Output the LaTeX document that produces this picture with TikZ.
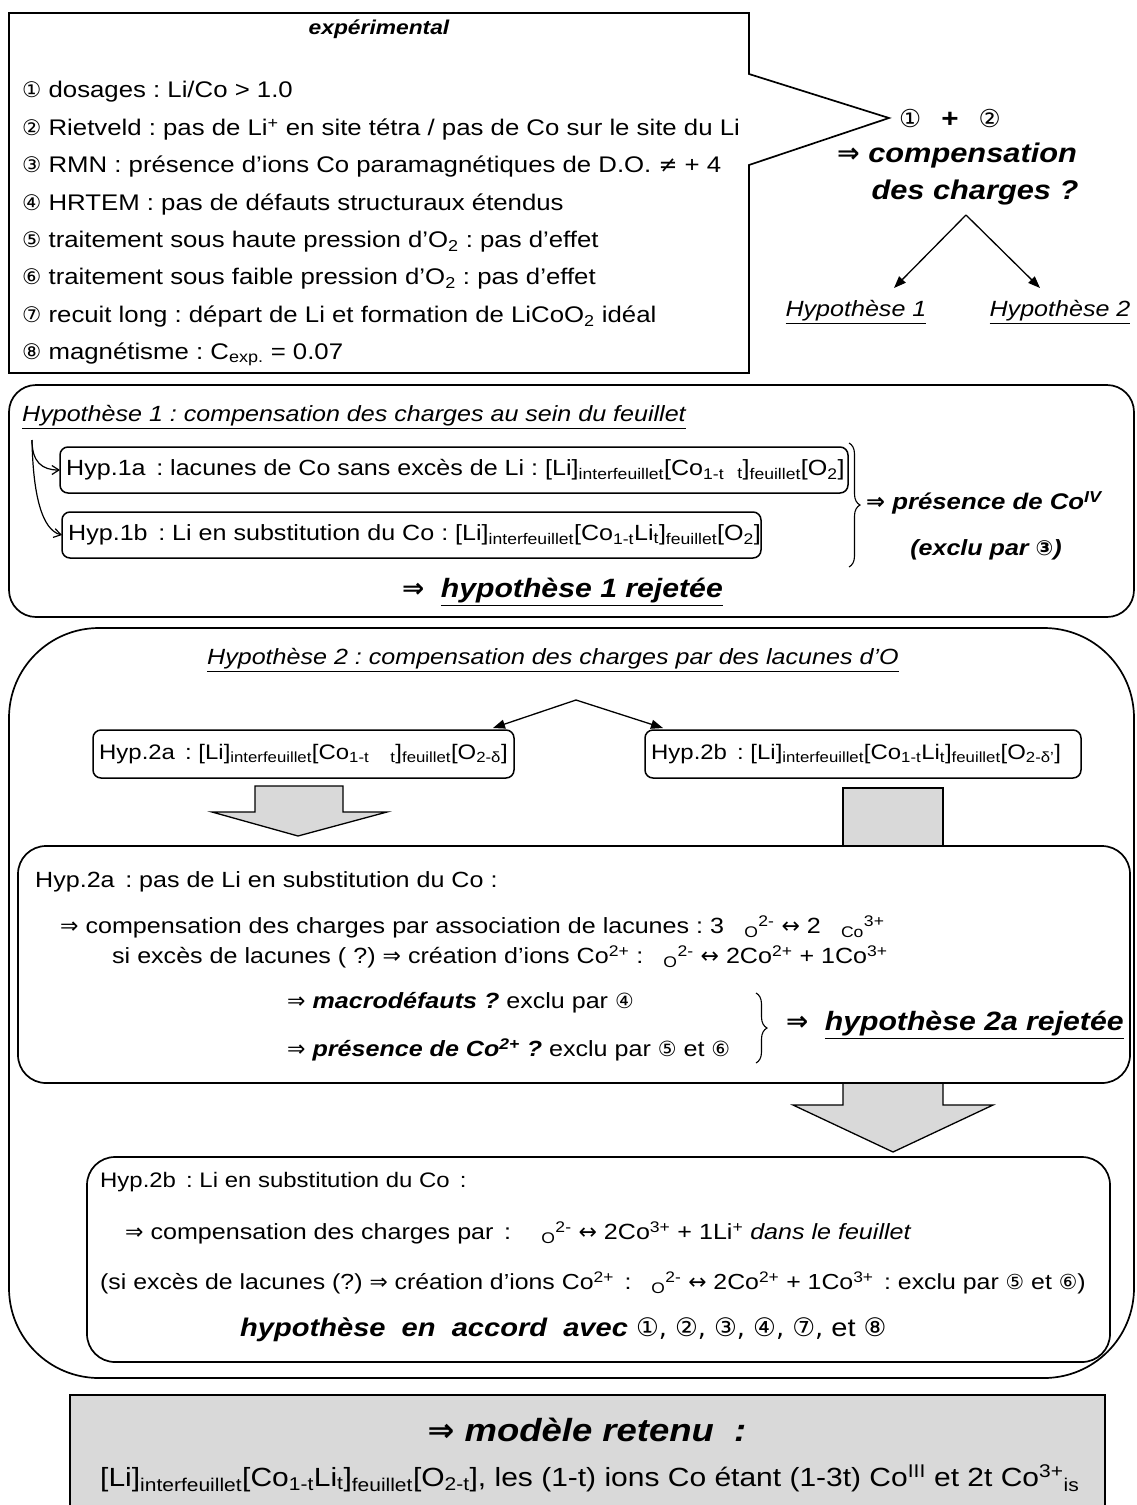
\documentclass[tikz,border=0pt]{standalone}
\usepackage{fontspec}
\setmainfont{Liberation Sans}[FakeStretch=1.14]
\newfontfamily\symf{DejaVu Sans}
\usetikzlibrary{arrows.meta,decorations.pathreplacing}
\frenchspacing
\newcommand\fs[1]{\fontsize{#1}{#1}\selectfont}
\newcommand\sbs[1]{\textsubscript{#1}}
\newcommand\sps[1]{\textsuperscript{#1}}
\newcommand\RA{{\symf ⇒}}
\newcommand\LRA{{\symf ↔}}
\newcommand\cn[1]{{\symf\fontsize{0.95em}{1em}\selectfont #1}}
\newcommand\vac{\hspace{0.6em}}
\definecolor{boxgray}{RGB}{217,217,217}
\begin{document}
\begin{tikzpicture}[x=1pt,y=-1pt,
  frame/.style={line width=1.7pt},
  smallbox/.style={line width=1.5pt, rounded corners=8pt},
  t/.style={inner sep=0pt, anchor=west},
  tc/.style={inner sep=0pt, anchor=center},
  arr/.style={line width=1.3pt, -{Triangle[length=12pt,width=9pt]}},
  carr/.style={line width=1.2pt, -{Straight Barb[length=7pt,width=9pt]}},
  blockarrow/.style={line width=1.3pt, fill=boxgray, draw=black},
  brace/.style={line width=1.1pt, decorate, decoration={brace, amplitude=11pt}},
  item/.style={t, font=\fs{22.6}},
  hyp/.style={t, font=\fs{22}},
  big/.style={font=\fs{26.5}\bfseries\itshape}]
\useasboundingbox (0,0) rectangle (1136,1505);

% ---- top callout box
\draw[frame] (9,13) -- (749,13) -- (749,74) -- (889,118) -- (749,165) -- (749,373) -- (9,373) -- cycle;
\node[tc, font=\fs{20}\bfseries\itshape] (exp) at (379,29) {expérimental};
\node[item] (i1) at (22,92)  {\cn{①} dosages : Li/Co > 1.0};
\node[item] (i2) at (22,130) {\cn{②} Rietveld : pas de Li\sps{+} en site tétra / pas de Co sur le site du Li};
\node[item] (i3) at (22,167) {\cn{③} RMN : présence d’ions Co paramagnétiques de D.O. {\symf ≠} + 4};
\node[item] (i4) at (22,205) {\cn{④} HRTEM : pas de défauts structuraux étendus};
\node[item] (i5) at (22,242) {\cn{⑤} traitement sous haute pression d’O\sbs{2} : pas d’effet};
\node[item] (i6) at (22,279) {\cn{⑥} traitement sous faible pression d’O\sbs{2} : pas d’effet};
\node[item] (i7) at (22,317) {\cn{⑦} recuit long : départ de Li et formation de LiCoO\sbs{2} idéal};
\node[item] (i8) at (22,354) {\cn{⑧} magnétisme : C\sbs{exp.} = 0.07};

% ---- right question
\node[tc, font=\fs{26}] (c12) at (950,118) {\cn{①}\hspace{20pt}\textbf{+}\hspace{20pt}\cn{②}};
\node[tc, font=\fs{27}\bfseries\itshape] (comp) at (957,156) {\RA{} compensation};
\node[tc, font=\fs{27}\bfseries\itshape] (dch) at (975,193) {des charges ?};
\node[tc, font=\fs{22}\itshape] (H1) at (856,312) {\underline{Hypothèse 1}};
\node[tc, font=\fs{22}\itshape] (H2) at (1060,312) {\underline{Hypothèse 2}};
\coordinate (apex1) at (966,215);
\coordinate (tipH1) at (894,288);
\coordinate (tipH2) at (1040,288);
\draw[arr] (apex1) -- (tipH1);
\draw[arr] (apex1) -- (tipH2);

% ---- Hypothese 1 box
\draw[frame, rounded corners=27pt] (9,385) rectangle (1134,617);
\node[t, font=\fs{22}\itshape] (t1) at (22,417) {\underline{Hypothèse 1 : compensation des charges au sein du feuillet}};
\draw[smallbox] (60,447) rectangle (848,493);
\draw[smallbox] (62,512) rectangle (761,558);
\node[hyp] (h1a) at (66,470) {Hyp.1a\, : lacunes de Co sans excès de Li : [Li]\sbs{interfeuillet}[Co\sbs{1-t}\vac\sbs{t}]\sbs{feuillet}[O\sbs{2}]};
\node[hyp] (h1b) at (68,535) {Hyp.1b\, : Li en substitution du Co : [Li]\sbs{interfeuillet}[Co\sbs{1-t}Li\sbs{t}]\sbs{feuillet}[O\sbs{2}]};
\coordinate (src1) at (32,440);
\coordinate (in1a) at (60,470);
\coordinate (in1b) at (62,535);
\draw[carr] (src1) .. controls (32,462) and (42,470) .. (in1a);
\draw[carr] (src1) .. controls (33,495) and (42,530) .. (in1b);
\draw[brace] (849,443) -- (849,567);
\node[t, font=\fs{22.6}\bfseries\itshape] (pres) at (866,503) {\RA{} présence de Co\sps{IV}};
\node[tc, font=\fs{22}\bfseries\itshape] (excl) at (986,550) {(exclu par \cn{③})};
\node[t, big] (rej1) at (402,592) {\RA{}\hspace{8pt} \underline{hypothèse 1 rejetée}};

% ---- Hypothese 2 box
\draw[frame, rounded corners=90pt] (9,628) rectangle (1134,1378);
\node[t, font=\fs{22}\itshape] (t2) at (207,660) {\underline{Hypothèse 2 : compensation des charges par des lacunes d’O}};
\coordinate (apex2) at (576,700);
\coordinate (tip2a) at (493,728);
\coordinate (tip2b) at (663,728);
\draw[arr] (apex2) -- (tip2a);
\draw[arr] (apex2) -- (tip2b);
\draw[smallbox] (93,730) rectangle (514,778);
\draw[smallbox] (645,730) rectangle (1081,778);
\node[hyp, font=\fs{21}] (h2a) at (99,754) {Hyp.2a\, : [Li]\sbs{interfeuillet}[Co\sbs{1-t}\hspace{1em}\sbs{t}]\sbs{feuillet}[O\sbs{2-δ}]};
\node[hyp, font=\fs{21}] (h2b) at (651,754) {Hyp.2b\, : [Li]\sbs{interfeuillet}[Co\sbs{1-t}Li\sbs{t}]\sbs{feuillet}[O\sbs{2-δ’}]};

% block arrows
\draw[blockarrow] (255,786) -- (343,786) -- (343,812) -- (387,812) -- (298,836) -- (212,812) -- (255,812) -- cycle;
\draw[blockarrow] (843,846) -- (843,788) -- (943,788) -- (943,846);
\draw[blockarrow] (843,1083) -- (843,1105) -- (793,1105) -- (893,1152) -- (993,1105) -- (943,1105) -- (943,1083);

% Hyp.2a inner box
\draw[frame, rounded corners=28pt, fill=white] (18,846) rectangle (1130,1083);
\node[hyp] (a1) at (35,882) {Hyp.2a\, : pas de Li en substitution du Co :};
\node[hyp] (a2) at (60,927) {\RA{} compensation des charges par association de lacunes : 3 \vac\sbs{O}\sps{2-} \LRA{} 2 \vac\sbs{Co}\sps{3+}};
\node[hyp] (a3) at (112,957) {si excès de lacunes ( ?) \RA{} création d’ions Co\sps{2+} : \vac\sbs{O}\sps{2-} \LRA{} 2Co\sps{2+} + 1Co\sps{3+}};
\node[hyp] (a4) at (287,1003) {\RA{} \textbf{\textit{macrodéfauts ?}} exclu par \cn{④}};
\node[hyp] (a5) at (287,1050) {\RA{} \textbf{\textit{présence de Co\sps{2+} ?}} exclu par \cn{⑤} et \cn{⑥}};
\draw[brace] (756,993) -- (756,1063);
\node[t, big] (rej2a) at (786,1025) {\RA{}\hspace{8pt} \underline{hypothèse 2a rejetée}};

% Hyp.2b inner box
\draw[frame, rounded corners=28pt] (87,1157) rectangle (1110,1362);
\node[hyp, font=\fs{21}] (b1) at (100,1182) {Hyp.2b\, : Li en substitution du Co\, :};
\node[hyp] (b2) at (125,1233) {\RA{} compensation des charges par\, :\hspace{10pt} \vac\sbs{O}\sps{2-} \LRA{} 2Co\sps{3+} + 1Li\sps{+} \textit{dans le feuillet}};
\node[hyp, font=\fs{21.8}] (b3) at (100,1283) {(si excès de lacunes (?) \RA{} création d’ions Co\sps{2+}\, : \vac\sbs{O}\sps{2-} \LRA{} 2Co\sps{2+} + 1Co\sps{3+}\, : exclu par \cn{⑤} et \cn{⑥})};
\node[hyp, font=\fs{25.5}] (b4) at (240,1330) {\textbf{\textit{hypothèse\ \ en\ \ accord\ \ avec}} {\symf ①, ②, ③, ④, ⑦,} et {\symf ⑧}};

% ---- final model
\draw[frame, fill=boxgray] (70,1508) -- (70,1395) -- (1105,1395) -- (1105,1508);
\node[tc, font=\fs{32}\bfseries\itshape] (mod) at (587,1430) {\RA{} modèle retenu\ \ :};
\node[hyp, font=\fs{26.3}] (form) at (100,1478) {[Li]\sbs{interfeuillet}[Co\sbs{1-t}Li\sbs{t}]\sbs{feuillet}[O\sbs{2-t}], les (1-t) ions Co étant (1-3t) Co\sps{III} et 2t Co\sps{3+}\sbs{is}};
\end{tikzpicture}
\end{document}
